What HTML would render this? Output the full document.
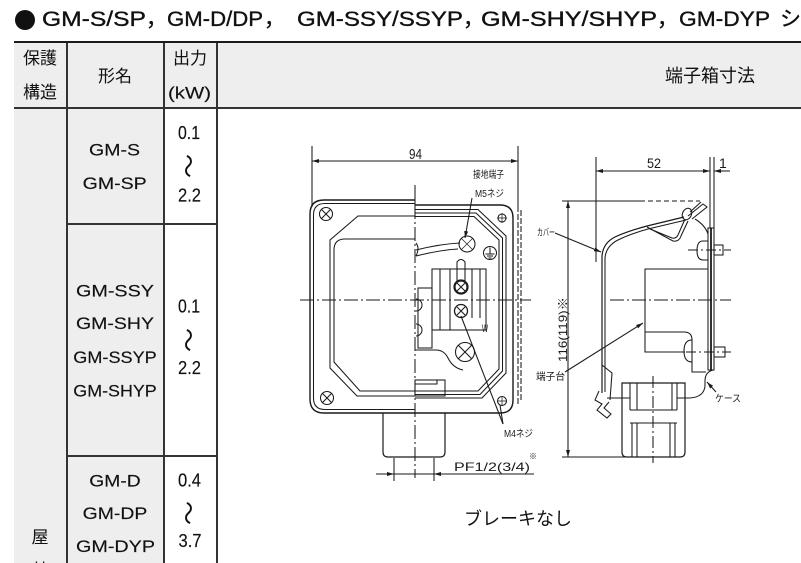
<!DOCTYPE html>
<html><head><meta charset="utf-8">
<style>
html,body{margin:0;padding:0;overflow:hidden;width:801px;height:563px;}
#p{position:relative;width:801px;height:563px;overflow:hidden;background:#fff;font-family:"Liberation Sans","Noto Sans CJK JP",sans-serif;color:#111;}
.a{position:absolute;}
.bg{position:absolute;background:#eeeeee;}
.ln{position:absolute;background:#333;}
.t{position:absolute;white-space:nowrap;text-align:center;font-size:17px;line-height:20px;}
</style></head>
<body><div id="p">
<div class="bg" style="left:14px;top:43px;width:787px;height:64px;"></div>
<div class="bg" style="left:14px;top:109px;width:52px;height:454px;"></div>
<div class="bg" style="left:68px;top:109px;width:95px;height:454px;"></div>

<div class="ln" style="left:14px;top:41px;width:787px;height:2px;background:#1a1a1a;"></div>
<div class="ln" style="left:14px;top:107px;width:787px;height:2px;"></div>
<div class="ln" style="left:66px;top:43px;width:2px;height:520px;"></div>
<div class="ln" style="left:163px;top:43px;width:2px;height:520px;"></div>
<div class="ln" style="left:216px;top:43px;width:2px;height:520px;"></div>
<div class="ln" style="left:66px;top:223px;width:152px;height:2px;"></div>
<div class="ln" style="left:66px;top:455px;width:152px;height:2px;"></div>

<div class="a" style="left:15px;top:10px;width:20px;height:20px;border-radius:50%;background:#111;"></div>

<div class="t" style="left:14px;width:52px;top:49px;">保護</div>
<div class="t" style="left:14px;width:52px;top:83px;">構造</div>
<div class="t" style="left:65px;width:100px;top:67px;">形名</div>
<div class="t" style="left:165px;width:50px;top:49px;">出力</div>
<div class="t" style="left:640px;width:140px;top:66px;font-size:18px;">端子箱寸法</div>
<div class="t" style="left:14px;width:52px;top:528px;">屋</div>
<div class="t" style="left:14px;width:52px;top:561px;">外</div>
<div class="t" style="left:445px;width:146px;top:509px;font-size:18px;">ブレーキなし</div>

<svg class="a" style="left:0;top:0" width="801" height="563" viewBox="0 0 801 563">
<defs>
<marker id="ar" markerUnits="userSpaceOnUse" markerWidth="7" markerHeight="4" refX="7" refY="2" orient="auto-start-reverse" viewBox="0 0 7 4"><path d="M0,0L7,2L0,4z" fill="#1a1a1a"/></marker>
</defs>

<g fill="#111" stroke="#111" stroke-width="0.35" font-family="Liberation Sans, Noto Sans CJK JP, sans-serif" font-size="21">
<text x="42" y="26" textLength="104" lengthAdjust="spacingAndGlyphs">GM-S/SP</text>
<text x="146" y="26">，</text>
<text x="167" y="26" textLength="96" lengthAdjust="spacingAndGlyphs">GM-D/DP</text>
<text x="264" y="26">，</text>
<text x="297" y="26" textLength="166" lengthAdjust="spacingAndGlyphs">GM-SSY/SSYP</text>
<text x="463" y="26">，</text>
<text x="481" y="26" textLength="176" lengthAdjust="spacingAndGlyphs">GM-SHY/SHYP</text>
<text x="657" y="26">，</text>
<text x="679" y="26" textLength="91" lengthAdjust="spacingAndGlyphs">GM-DYP</text>
<text x="780" y="26">シ</text>
</g>

<g fill="#111" stroke="#111" stroke-width="0.15" font-family="Liberation Sans, sans-serif" font-size="17">
<text x="168" y="98.5" textLength="43" lengthAdjust="spacingAndGlyphs">(kW)</text>
<text x="89" y="155.5" textLength="51" lengthAdjust="spacingAndGlyphs">GM-S</text>
<text x="82.7" y="189" textLength="64" lengthAdjust="spacingAndGlyphs">GM-SP</text>
<text x="76" y="296.5" textLength="78" lengthAdjust="spacingAndGlyphs">GM-SSY</text>
<text x="76" y="329" textLength="78" lengthAdjust="spacingAndGlyphs">GM-SHY</text>
<text x="73.3" y="363" textLength="83.4" lengthAdjust="spacingAndGlyphs">GM-SSYP</text>
<text x="73.3" y="396.5" textLength="83.4" lengthAdjust="spacingAndGlyphs">GM-SHYP</text>
<text x="89.3" y="486.5" textLength="51.4" lengthAdjust="spacingAndGlyphs">GM-D</text>
<text x="82.7" y="519" textLength="64.6" lengthAdjust="spacingAndGlyphs">GM-DP</text>
<text x="76" y="552" textLength="79" lengthAdjust="spacingAndGlyphs">GM-DYP</text>
</g>
<g fill="#111" stroke="#111" stroke-width="0.15" font-family="Liberation Sans, sans-serif" font-size="18">
<text x="178" y="139" textLength="22" lengthAdjust="spacingAndGlyphs">0.1</text>
<text x="178" y="201.5" textLength="23" lengthAdjust="spacingAndGlyphs">2.2</text>
<text x="178" y="312.5" textLength="22" lengthAdjust="spacingAndGlyphs">0.1</text>
<text x="178" y="374" textLength="23" lengthAdjust="spacingAndGlyphs">2.2</text>
<text x="178" y="486.5" textLength="23" lengthAdjust="spacingAndGlyphs">0.4</text>
<text x="178.5" y="547" textLength="23" lengthAdjust="spacingAndGlyphs">3.7</text>
</g>
<g fill="#111" font-family="Noto Sans CJK JP, sans-serif" font-size="24" text-anchor="middle">
<text transform="translate(190,166) rotate(90)" dominant-baseline="central">～</text>
<text transform="translate(190,340) rotate(90)" dominant-baseline="central">～</text>
<text transform="translate(190,513) rotate(90)" dominant-baseline="central">～</text>
</g>

<g fill="none" stroke="#1a1a1a" stroke-width="1.05">
<line x1="312" y1="146" x2="312" y2="207"/>
<line x1="518" y1="146" x2="518" y2="206"/>
<line x1="312" y1="161" x2="518" y2="161" marker-start="url(#ar)" marker-end="url(#ar)"/>
<line x1="415" y1="185" x2="415" y2="205"/>
<line x1="415" y1="205" x2="415" y2="478" stroke-dasharray="14 3 2 3"/>
<line x1="300" y1="300" x2="531" y2="300" stroke-dasharray="14 3 2 3"/>
<path d="M415,200 H324 Q310,200 310,214 V399 Q310,413 324,413 H415" stroke-width="1.4"/>
<path d="M415,203.5 H325 Q313.5,203.5 313.5,215 V398 Q313.5,409.5 325,409.5 H415"/>
<path d="M415,216 H358 L330,240 V368 L357,396 H415"/>
<path d="M415,239 H345 Q334,239 334,250 V362 L360,391 H415"/>
<circle cx="326" cy="214" r="6.5"/>
<path d="M321.4,209.4 L330.6,218.6 M330.6,209.4 L321.4,218.6"/>
<circle cx="327" cy="398" r="6.5"/>
<path d="M322.4,393.4 L331.6,402.6 M331.6,393.4 L322.4,402.6"/>
<path d="M415,205 H500 Q513,205 513,218 V400 Q513,413 500,413 H415" stroke-width="1.4"/>
<path d="M415,209.5 H478 L506,236 V373 L482,398 H415"/>
<path d="M415,213 H476 L502.5,238 V371 L480,394.5 H415"/>
<path d="M415,216.5 H474 L499,240 V369 L478,391 H415"/>
<line x1="518" y1="206" x2="518" y2="405" stroke-dasharray="6 2"/>
<line x1="521" y1="210" x2="521" y2="400" stroke-dasharray="6 2"/>
<circle cx="502" cy="218" r="4"/>
<path d="M497,218 H507 M502,213 V223" stroke-width="0.7"/>
<circle cx="502" cy="401" r="4.5"/>
<path d="M497,401 H507 M502,396 V406" stroke-width="0.7"/>
<circle cx="490" cy="253" r="6.5"/>
<path d="M490,247.5 V254 M485.5,254 H494.5 M487,256 H493 M488.5,258 H491.5"/>
<path d="M416,250 Q440,244 460,243"/>
<path d="M416,256 Q440,250 458,249"/>
<circle cx="467" cy="244" r="8"/>
<path d="M461,238 L473,250 M473,238 L461,250" stroke-width="0.7"/>
<path d="M457,282 V262 Q461,257 465,262 V282"/>
<path d="M416,243 Q420,248 416,256"/>
<rect x="432" y="269" width="54" height="61"/>
<path d="M440,269 V330 M450,269 V330 M472,269 V318 M480,269 V318"/>
<rect x="418" y="288" width="14" height="60"/>
<circle cx="461" cy="287" r="6.5" stroke-width="2.2"/>
<path d="M457,283 L465,291 M465,283 L457,291"/>
<circle cx="461" cy="311" r="6.5" stroke-width="1.3"/>
<path d="M457,307 L465,315 M465,307 L457,315"/>
<circle cx="465" cy="352" r="9.5"/>
<path d="M458.3,345.3 L471.7,358.7 M471.7,345.3 L458.3,358.7"/>
<path d="M416,299 A6,6 0 0 1 416,311 M416,324 A6,6 0 0 1 416,336"/>
<path d="M415,350 H436 Q444,350 448,358 Q453,368 463,370"/>
<rect x="415" y="380" width="30" height="16"/>
<path d="M415,384 H437 V380"/>
<path d="M383,413 V452 Q383,457 388,457 H440 Q445,457 445,452 V413" stroke-width="1.2"/>
<line x1="394" y1="458" x2="394" y2="481"/>
<line x1="434" y1="458" x2="434" y2="481"/>
<line x1="376" y1="474" x2="534" y2="474"/>
<line x1="472" y1="198" x2="465" y2="238" marker-end="url(#ar)"/>
<line x1="461" y1="316" x2="503" y2="424"/>
<line x1="500" y1="405" x2="503" y2="424"/>

<line x1="596" y1="157" x2="596" y2="262"/>
<line x1="710" y1="157" x2="710" y2="228"/>
<line x1="714" y1="157" x2="714" y2="228"/>
<line x1="596" y1="171" x2="710" y2="171" marker-start="url(#ar)" marker-end="url(#ar)"/>
<line x1="730" y1="171" x2="714" y2="171" marker-end="url(#ar)"/>
<line x1="562" y1="201" x2="640" y2="201"/>
<line x1="640" y1="201" x2="700" y2="201" stroke-dasharray="5 3"/>
<line x1="562" y1="457" x2="630" y2="457"/>
<line x1="568" y1="201" x2="568" y2="457" marker-start="url(#ar)" marker-end="url(#ar)"/>
<path d="M684,217 L647,226 Q628,231 615,237 Q603,243 602,256 V393" stroke-width="1.2"/>
<path d="M686,220 L648,229 Q630,234 618,240 Q606,246 605,258 V392"/>
<path d="M647,227 L673,241 Q679,242 681,236 L688,221"/>
<path d="M650,229 L672,238 Q676,239 678,235 L685,219"/>
<ellipse cx="687" cy="214" rx="4.5" ry="6" transform="rotate(25 687 214)"/>
<path d="M688,216 L703,204 L707,207 L692,219 M690,212 L701,202"/>
<path d="M695,219 Q705,225 708,234"/>
<rect x="708" y="228" width="6" height="142"/>
<line x1="711" y1="228" x2="711" y2="370" stroke-width="1.8"/>
<path d="M708,241 H703 Q697,241 697,250.5 Q697,260 703,260 H708"/>
<rect x="714" y="245" width="9" height="10"/>
<path d="M692,340 Q684,340 684,351 Q684,362 692,362"/>
<rect x="714" y="347" width="11" height="10"/>
<path d="M708,269 H645 V352 H685"/>
<path d="M645,332 H684 Q692,332 692,340 V372 H706"/>
<line x1="610" y1="300" x2="731" y2="300" stroke-dasharray="14 3 2 3"/>
<line x1="688" y1="250" x2="731" y2="250" stroke-dasharray="10 3 2 3"/>
<line x1="686" y1="352" x2="731" y2="352" stroke-dasharray="10 3 2 3"/>
<path d="M602,365 L612,373 L610,400"/>
<path d="M599,391 L595,400 L602,404 L597,410 L607,418 L611,414 L604,408 L609,402"/>
<line x1="607" y1="398" x2="630" y2="398"/>
<path d="M622,383 H685 V452 Q685,457 680,457 H627 Q622,457 622,452 Z" stroke-width="1.2"/>
<path d="M630,383 V410 M637,383 V410 M672,383 V410 M677,383 V410"/>
<path d="M630,410 H677 M630,423 H677"/>
<path d="M632,423 V457 M637,423 V457 M670,423 V457 M675,423 V457"/>
<line x1="653" y1="376" x2="653" y2="463" stroke-dasharray="12 3 2 3"/>
<path d="M713,370 Q705,372 705,381 V386 Q704,397 690,398 H677"/>
<line x1="555" y1="233" x2="601" y2="252" marker-end="url(#ar)"/>
<line x1="565" y1="372" x2="643" y2="323" marker-end="url(#ar)"/>
<line x1="716" y1="392" x2="707" y2="382" marker-end="url(#ar)"/>
</g>
<g fill="#1a1a1a" stroke="none">
<path d="M394,474 L387,472 L387,476 Z M434,474 L441,472 L441,476 Z"/>
</g>
<g fill="#1a1a1a" stroke="none" font-family="Liberation Sans, Noto Sans CJK JP, sans-serif">
<text x="409" y="159" font-size="15" textLength="13" lengthAdjust="spacingAndGlyphs">94</text>
<text x="473" y="178" font-size="10" textLength="31" lengthAdjust="spacingAndGlyphs">接地端子</text>
<text x="475" y="197" font-size="10" textLength="29" lengthAdjust="spacingAndGlyphs">M5ネジ</text>
<text x="504" y="437" font-size="10" textLength="29" lengthAdjust="spacingAndGlyphs">M4ネジ</text>
<text x="454" y="471" font-size="12" textLength="76" lengthAdjust="spacingAndGlyphs">PF1/2(3/4)</text>
<text x="529" y="459" font-size="8">※</text>
<text x="482" y="332" font-size="11" textLength="6" lengthAdjust="spacingAndGlyphs">W</text>
<text x="647" y="168" font-size="14" textLength="14" lengthAdjust="spacingAndGlyphs">52</text>
<text x="719" y="168" font-size="14">1</text>
<text x="537" y="236" font-size="10" textLength="18" lengthAdjust="spacingAndGlyphs">カバー</text>
<text x="536" y="380" font-size="10" textLength="29" lengthAdjust="spacingAndGlyphs">端子台</text>
<text x="715" y="402" font-size="10" textLength="26" lengthAdjust="spacingAndGlyphs">ケース</text>
<text x="0" y="0" font-size="12" textLength="65" lengthAdjust="spacingAndGlyphs" transform="translate(567,362) rotate(-90)">116(119)※</text>
</g>
</svg>
</div></body></html>
